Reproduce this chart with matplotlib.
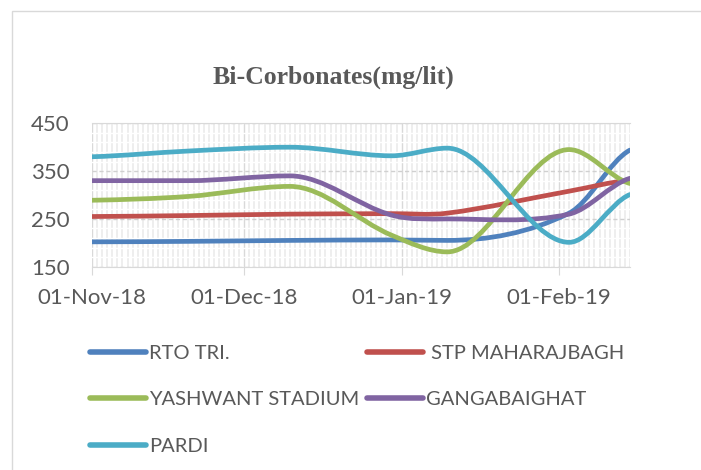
import matplotlib
matplotlib.use("Agg")
import matplotlib.pyplot as plt
import matplotlib.dates as mdates
from matplotlib.path import Path
from matplotlib.patches import PathPatch, Rectangle
from matplotlib.lines import Line2D
import numpy as np
import pandas as pd

# sampling dates + values
dates = ["2018-11-01", "2018-11-20", "2018-12-10", "2018-12-30", "2019-01-10", "2019-02-03", "2019-02-15"]
rto = [202, 203, 205, 206, 205, 262, 394]
stp = [255, 257, 260, 261, 262, 308, 331]
yashwant = [289, 297, 318, 216, 181, 395, 324]
ganga = [330, 330, 340, 258, 250, 260, 335]
pardi = [380, 392, 400, 382, 398, 201, 301]

names = ["RTO TRI.", " STP MAHARAJBAGH", "YASHWANT STADIUM", "GANGABAIGHAT", "PARDI"]
colors = ["#4F81BD", "#C0504D", "#9BBB59", "#8064A2", "#4BACC6"]
series = [rto, stp, yashwant, ganga, pardi]

grey = "#595959"
plt.rcParams["font.family"] = ["Lato", "DejaVu Sans"]


def smooth_path(x, y):
    # smoothed line as cubic bezier segments (flat at local peaks/dips)
    x = np.asarray(x, float)
    y = np.asarray(y, float)
    n = len(x)
    m = np.zeros(n)
    for i in range(1, n - 1):
        if (y[i] - y[i - 1]) * (y[i + 1] - y[i]) > 0:
            m[i] = (y[i + 1] - y[i - 1]) / (x[i + 1] - x[i - 1])
    m[0] = 0.5 * (y[1] - y[0]) / (x[1] - x[0])
    m[-1] = 0.5 * (y[-1] - y[-2]) / (x[-1] - x[-2])
    verts = [(x[0], y[0])]
    codes = [Path.MOVETO]
    for i in range(n - 1):
        dx = x[i + 1] - x[i]
        verts += [(x[i] + dx / 3, y[i] + m[i] * dx / 3),
                  (x[i + 1] - dx / 3, y[i + 1] - m[i + 1] * dx / 3),
                  (x[i + 1], y[i + 1])]
        codes += [Path.CURVE4] * 3
    return Path(verts, codes)


fig = plt.figure(figsize=(7.01, 4.70), dpi=100)
ax = fig.add_axes([92 / 701, 1 - 266.7 / 470, (630 - 92) / 701, (266.7 - 123.3) / 470])

xd = mdates.date2num(pd.to_datetime(dates))
for vals, c in zip(series, colors):
    ax.add_patch(PathPatch(smooth_path(xd, vals), fill=False, ec=c, lw=3.4,
                           capstyle="round", joinstyle="round", zorder=3))

ax.set_xlim(xd[0], xd[-1])
ax.set_ylim(150, 450)
ax.set_yticks([150, 250, 350, 450])
ax.xaxis.set_major_locator(mdates.MonthLocator())
ax.xaxis.set_major_formatter(mdates.DateFormatter("%d-%b-%y"))
ax.xaxis.set_minor_locator(mdates.DayLocator())
ax.set_yticks(np.arange(150, 451, 20), minor=True)

# grid
ax.grid(True, which="minor", axis="x", color="#ebebeb", lw=1.2)
ax.grid(True, which="minor", axis="y", color="white", lw=1)
ax.grid(True, which="major", axis="x", color="#d9d9d9", lw=1)
ax.grid(True, which="major", axis="y", color="#d0d0d0", lw=1, ls=(0, (3, 2)))
ax.set_axisbelow(True)

for s in ["left", "right"]:
    ax.spines[s].set_visible(False)
ax.spines["top"].set_color("#d9d9d9")
ax.spines["bottom"].set_color("#d9d9d9")

ax.tick_params(axis="x", which="major", length=6, color="#d9d9d9", pad=9, labelsize=16, labelcolor=grey)
ax.tick_params(axis="x", which="minor", length=0)
ax.tick_params(axis="y", which="both", length=0, pad=16, labelsize=16, labelcolor=grey)

fig.text(333 / 701, 1 - 77 / 470, "Bi-Corbonates(mg/lit)", ha="center", va="center",
         fontsize=18.5, fontweight="bold", color=grey, family="Liberation Serif")

# legend, row-major order like the original
handles = [Line2D([], [], color=c, lw=4, solid_capstyle="round") for c in colors]
order = [0, 2, 4, 1, 3]
fig.legend([handles[i] for i in order], [names[i] for i in order], ncol=2,
           loc="upper left", bbox_to_anchor=(90 / 701, 1 - 345 / 470), frameon=False,
           fontsize=14.5, labelcolor=grey, handlelength=2.8, handletextpad=0.15,
           columnspacing=0.35, labelspacing=1.45, borderpad=0, borderaxespad=0)

# chart border
fig.patches.append(Rectangle((12 / 701, -0.1), 2, 1.1 - 11 / 470, transform=fig.transFigure,
                             fill=False, ec="#d9d9d9", lw=1))

plt.savefig("out.png", dpi=100)
